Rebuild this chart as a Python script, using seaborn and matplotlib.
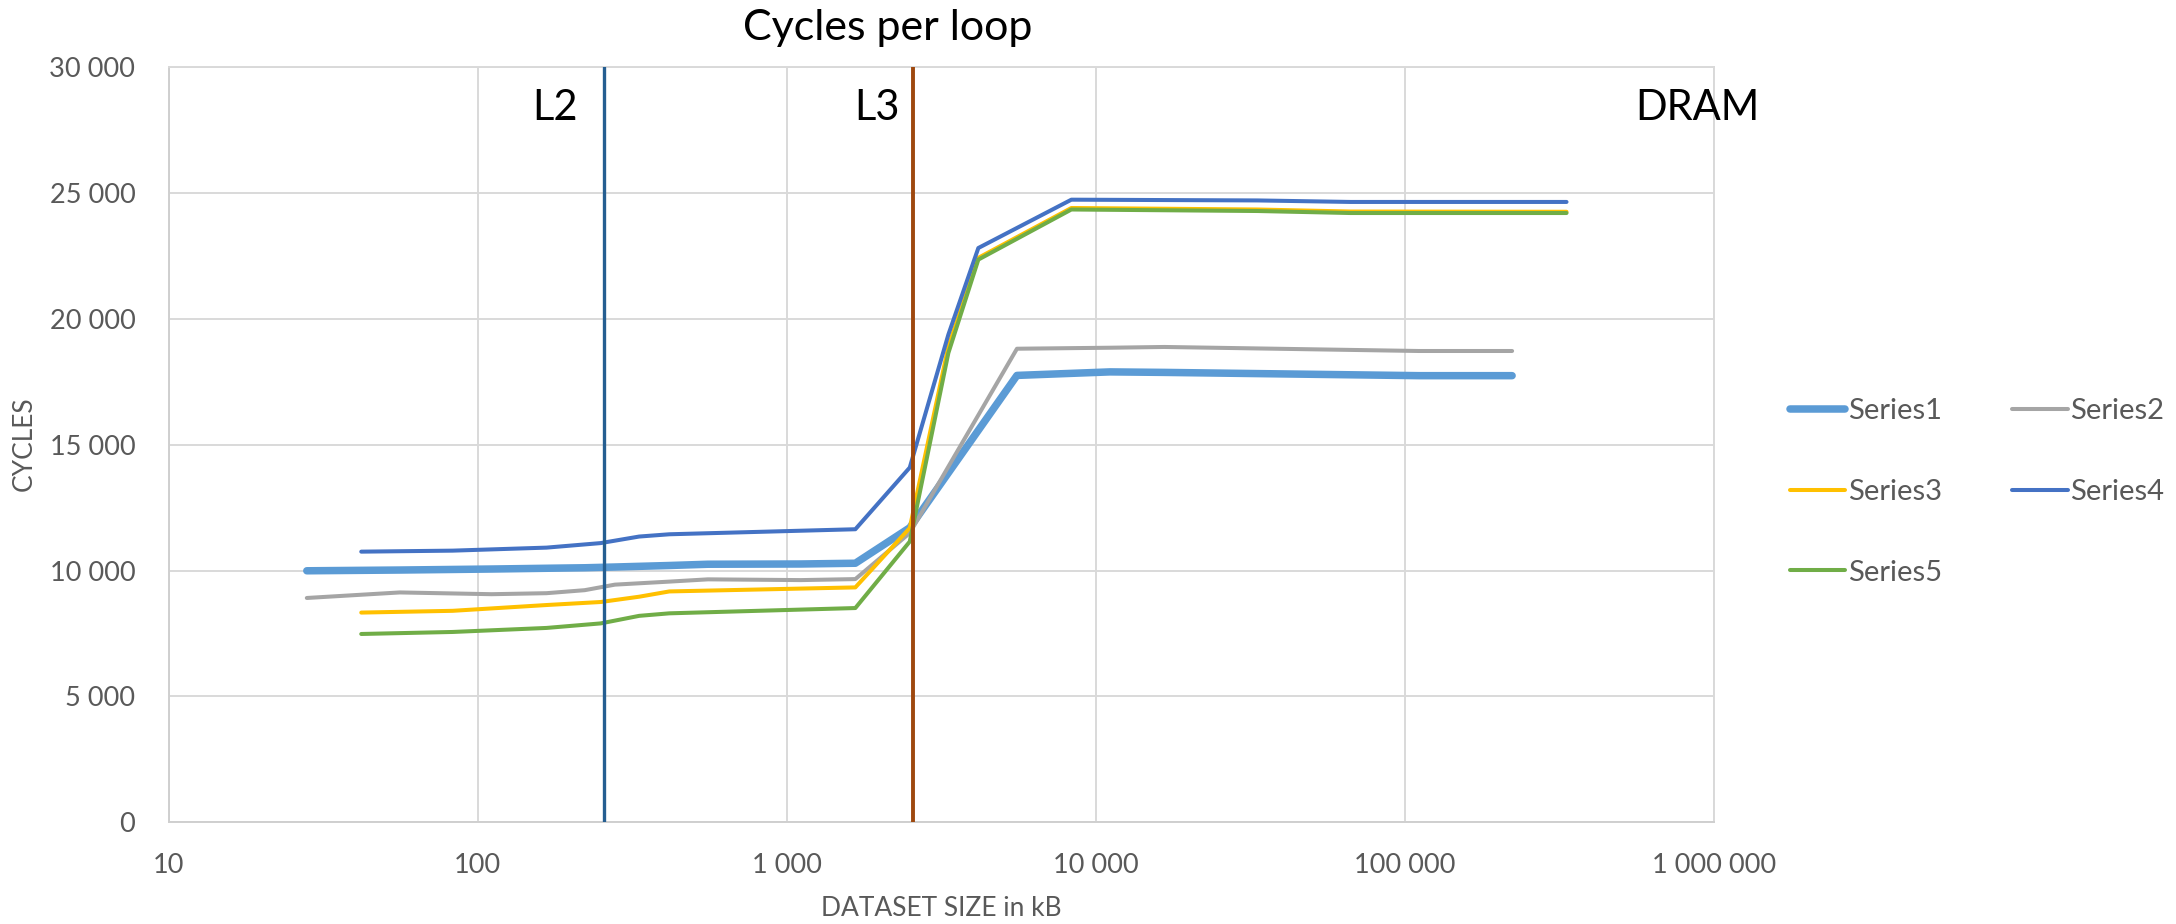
import numpy as np
import pandas as pd
import matplotlib
matplotlib.use("Agg")
import matplotlib.pyplot as plt
from matplotlib.ticker import FuncFormatter, FixedLocator
import seaborn as sns

# Dataset sizes (kB) for the two groups of runs
size_a = [28, 56, 111, 167, 222, 278, 417, 556, 1111, 1667, 2500, 5556, 11111, 16667, 111111, 222222]
size_b = [42, 83, 167, 250, 333, 417, 1667, 2500, 3333, 4167, 8333, 33333, 66667, 333333]

# Cycles per loop
series1 = [9990, 10020, 10060, 10090, 10110, 10140, 10200, 10250, 10260, 10290, 11700, 17750, 17890, 17870, 17740, 17740]
series2 = [8910, 9130, 9060, 9100, 9220, 9440, 9560, 9650, 9620, 9660, 11490, 18810, 18850, 18880, 18720, 18720]
series3 = [8330, 8400, 8630, 8750, 8960, 9170, 9330, 11690, 18900, 22420, 24400, 24340, 24260, 24250]
series4 = [10750, 10790, 10910, 11090, 11350, 11440, 11640, 14090, 19370, 22810, 24730, 24700, 24640, 24640]
series5 = [7480, 7560, 7720, 7900, 8200, 8300, 8510, 11150, 18640, 22350, 24340, 24280, 24200, 24200]

cache_l2 = 256
cache_l3 = 2560

series_names = ["Series1", "Series2", "Series3", "Series4", "Series5"]
series_sizes = [size_a, size_a, size_b, size_b, size_b]
series_values = [series1, series2, series3, series4, series5]
series_colors = ["#5B9BD5", "#A5A5A5", "#FFC000", "#4472C4", "#70AD47"]
series_widths = [5.4, 2.9, 2.9, 2.9, 2.9]

x_ticks = [10, 100, 1000, 10000, 100000, 1000000]
y_ticks = [0, 5000, 10000, 15000, 20000, 25000, 30000]

sns.set_theme(style="white")
plt.rcParams["font.family"] = ["Lato", "DejaVu Sans"]

W, H = 2176, 924
fig = plt.figure(figsize=(W / 100, H / 100), dpi=100)
ax_l, ax_r, ax_t, ax_b = 168.6, 1714.0, 67.0, 822.3
ax_w, ax_h = ax_r - ax_l, ax_b - ax_t
ax = fig.add_axes([ax_l / W, 1 - ax_b / H, ax_w / W, ax_h / H])

handles = {}
for name, xs, ys, col, lw in zip(series_names, series_sizes, series_values, series_colors, series_widths):
    df = pd.DataFrame({"size": xs, "cycles": ys})
    sns.lineplot(data=df, x="size", y="cycles", ax=ax, color=col, linewidth=lw,
                 sort=False, estimator=None, label=name, legend=False,
                 solid_capstyle="round", solid_joinstyle="round")
    handles[name] = ax.lines[-1]

ax.set_xscale("log")
ax.set_xlim(10, 1000000)
ax.set_ylim(0, 30000)

# Cache boundaries
ax.axvline(cache_l2, color="#255E91", linewidth=2.4, zorder=5)
ax.axvline(cache_l3, color="#9E480E", linewidth=2.8, zorder=5)

label_kw = dict(xycoords=("data", "axes fraction"), textcoords="offset pixels",
                ha="right", va="center", fontsize=30, color="black")
ax.annotate("L2", xy=(cache_l2, 1.0), xytext=(-26, -41), **label_kw)
ax.annotate("L3", xy=(cache_l3, 1.0), xytext=(-13, -41), **label_kw)
ax.text(0.989, 1.0 - 41 / ax_h, "DRAM", transform=ax.transAxes,
        ha="center", va="center", fontsize=30, color="black", clip_on=False)

# Axes styling
grid_col = "#D9D9D9"
ax.xaxis.set_major_locator(FixedLocator(x_ticks))
ax.xaxis.set_minor_locator(FixedLocator([]))
ax.yaxis.set_major_locator(FixedLocator(y_ticks))
fmt = FuncFormatter(lambda v, p: f"{v:,.0f}".replace(",", " "))
ax.xaxis.set_major_formatter(fmt)
ax.yaxis.set_major_formatter(fmt)
ax.grid(True, which="major", color=grid_col, linewidth=1.4)
ax.set_axisbelow(True)
for s in ax.spines.values():
    s.set_color(grid_col)
    s.set_linewidth(1.4)
ax.spines["left"].set_color("#CFCFCF")
ax.spines["bottom"].set_color("#CFCFCF")
ax.tick_params(axis="both", length=0, labelsize=19.5, labelcolor="#595959")
ax.tick_params(axis="x", pad=22)
ax.tick_params(axis="y", pad=24)

ax.set_xlabel("DATASET SIZE in kB", fontsize=19, color="#595959", va="center")
ax.xaxis.set_label_coords(0.5, -(909 - ax_b) / ax_h)
ax.set_ylabel("CYCLES", fontsize=19, color="#595959", va="center")
ax.yaxis.set_label_coords(-(ax_l - 24) / ax_w, 1 - (444 - ax_t) / ax_h)

fig.text(888 / W, 1 - 28 / H, "Cycles per loop", ha="center", va="center",
         fontsize=31, color="black")

order = ["Series1", "Series3", "Series5", "Series2", "Series4"]
leg = fig.legend([handles[n] for n in order], order, loc="center left",
                 bbox_to_anchor=(1778 / W, 1 - 492 / H), ncol=2, frameon=False,
                 fontsize=21, handlelength=1.9, handletextpad=0.1,
                 columnspacing=2.4, labelspacing=1.87, borderaxespad=0)
for t in leg.get_texts():
    t.set_color("#595959")

fig.savefig("out.png", dpi=100, facecolor="white")
